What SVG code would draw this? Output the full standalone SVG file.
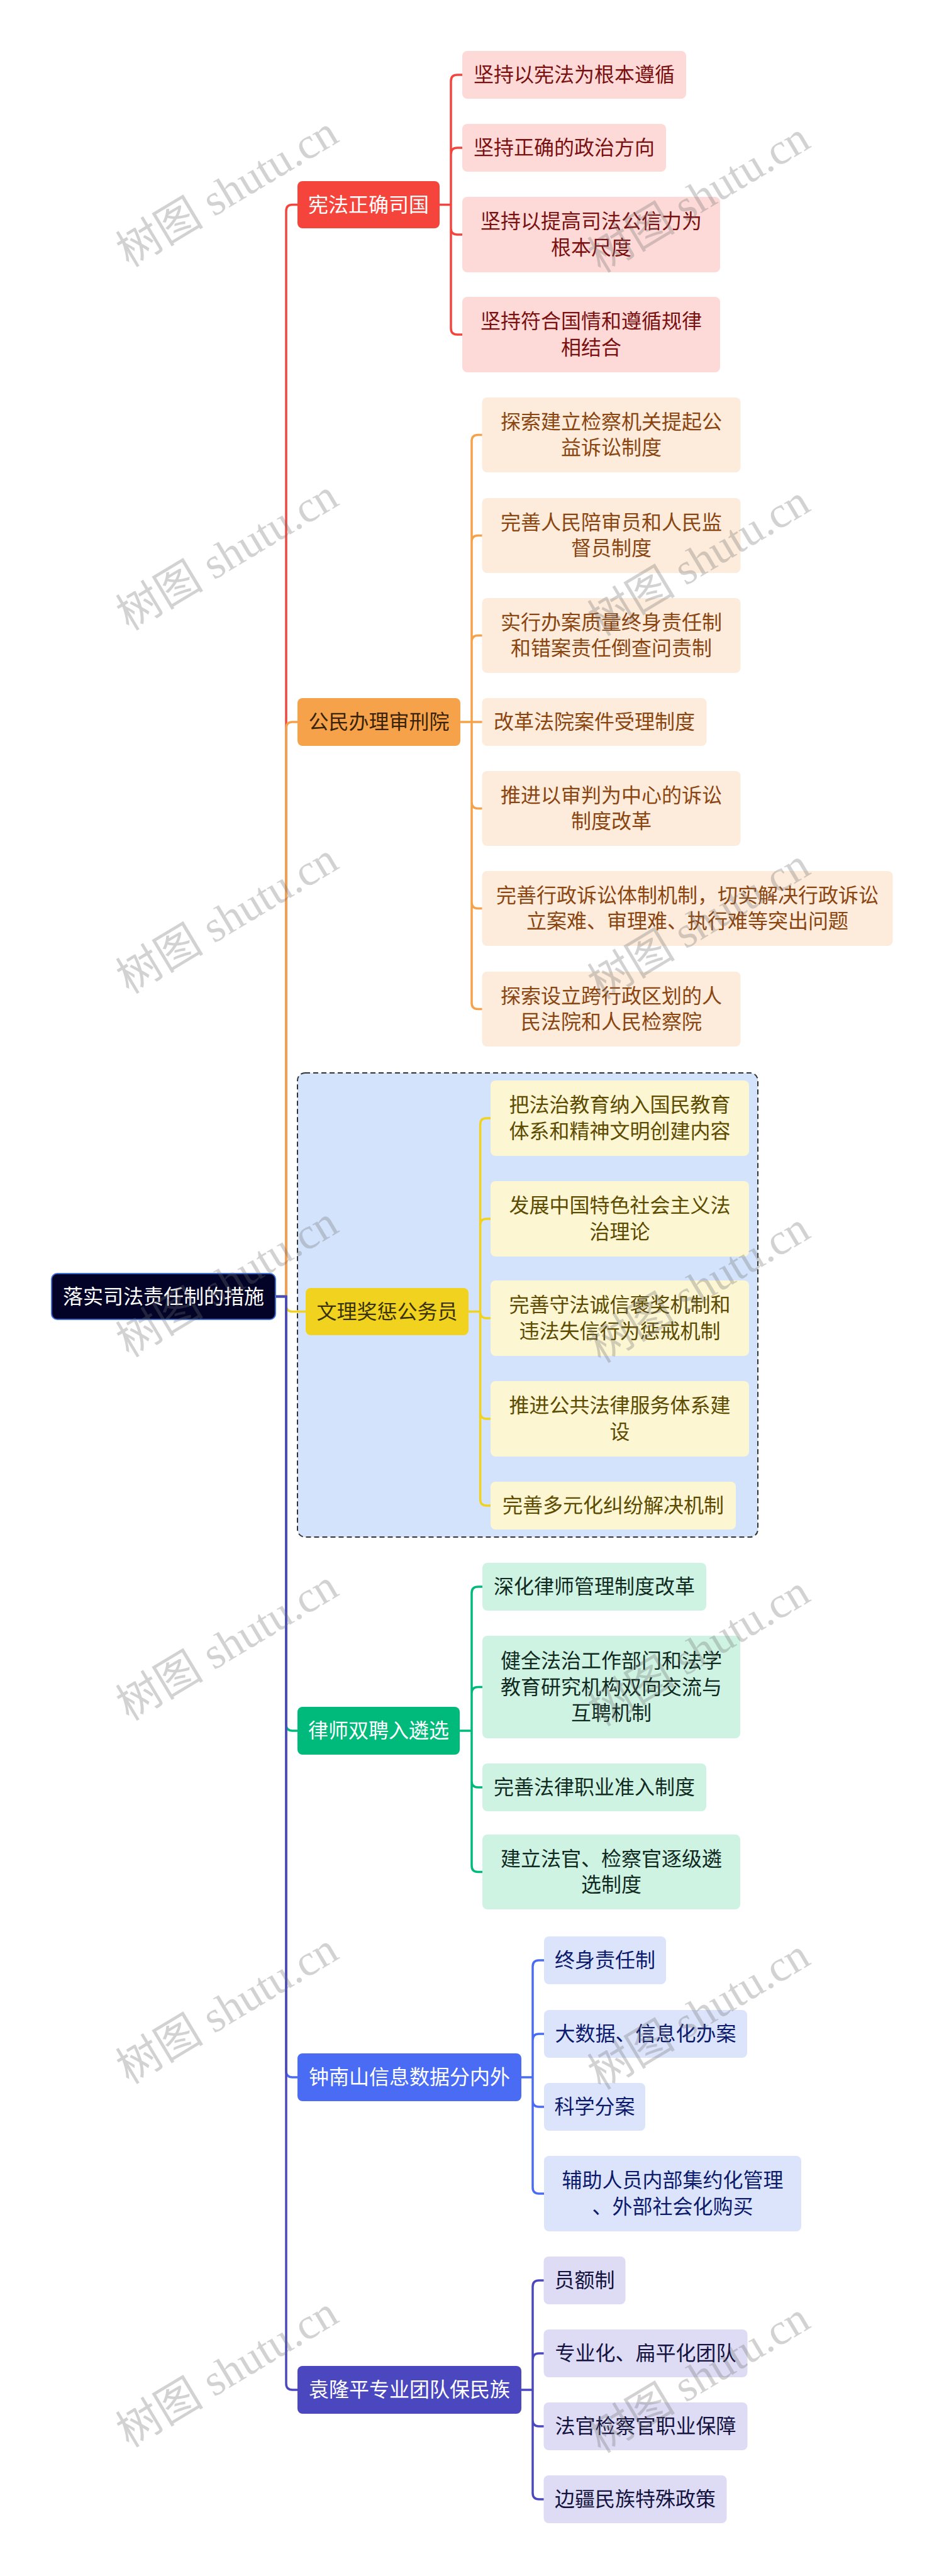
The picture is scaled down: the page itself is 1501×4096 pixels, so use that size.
<svg xmlns="http://www.w3.org/2000/svg" width="1501" height="4096" viewBox="0 0 1501 4096">
<style>
.t{font-family:"Noto Sans CJK SC","Noto Sans",sans-serif;font-size:32px;text-anchor:middle}
.w{fill:#ffffff}
.c{fill:none;stroke-width:3.5;stroke-linecap:round}
.wm{font-family:"Liberation Serif","Noto Sans CJK SC",serif;font-size:70px;fill:#6e6e6e;opacity:0.3}
.red{stroke:#f5443c}.ora{stroke:#f5a24b}.yel{stroke:#f0d21f}.grn{stroke:#00ba7b}.blu{stroke:#4a6cf4}.ind{stroke:#4a47bf}
</style>
<rect width="1501" height="4096" fill="#ffffff"/>
<g id="frame-b3"><rect x="473" y="1706" width="732" height="738" rx="12" fill="#d4e3fc" stroke="#333" stroke-width="2" stroke-dasharray="8 5"/></g>
<g id="connectors">
<path class="c red" d="M438 2061.5H455V335.5Q455 325.5 465 325.5H473"/>
<path class="c ora" d="M438 2061.5H455V1158Q455 1148 465 1148H473"/>
<path class="c yel" d="M438 2061.5H455V2075.5Q455 2085.5 465 2085.5H486"/>
<path class="c grn" d="M438 2061.5H455V2742Q455 2752 465 2752H473"/>
<path class="c blu" d="M438 2061.5H455V3293Q455 3303 465 3303H473"/>
<path class="c ind" d="M438 2061.5H455V3790Q455 3800 465 3800H473"/>
<path class="c red" d="M699 325.5H717V129Q717 119 727 119H735M717 325.5V245Q717 235 727 235H735M717 325.5V363Q717 373 727 373H735M717 325.5V522Q717 532 727 532H735"/>
<path class="c ora" d="M732 1148H750V701.5Q750 691.5 760 691.5H766.5M750 1148V861.5Q750 851.5 760 851.5H766.5M750 1148V1020.5Q750 1010.5 760 1010.5H766.5M750 1148H766.5M750 1148V1275.5Q750 1285.5 760 1285.5H766.5M750 1148V1434.5Q750 1444.5 760 1444.5H766.5M750 1148V1594.5Q750 1604.5 760 1604.5H766.5"/>
<path class="c yel" d="M745 2085.5H763.6V1788Q763.6 1778 773.6 1778H780M763.6 2085.5V1948Q763.6 1938 773.6 1938H780M763.6 2086Q763.6 2096 773.6 2096H780M763.6 2085.5V2246Q763.6 2256 773.6 2256H780M763.6 2085.5V2384Q763.6 2394 773.6 2394H780"/>
<path class="c grn" d="M731 2752H750V2533Q750 2523 760 2523H767M750 2752V2692.5Q750 2682.5 760 2682.5H767M750 2752V2832Q750 2842 760 2842H767M750 2752V2966.5Q750 2976.5 760 2976.5H767"/>
<path class="c blu" d="M829 3303H847V3127Q847 3117 857 3117H865M847 3303V3244Q847 3234 857 3234H865M847 3303V3340Q847 3350 857 3350H865M847 3303V3478Q847 3488 857 3488H865"/>
<path class="c ind" d="M829 3800H847V3636Q847 3626 857 3626H864.5M847 3800V3752Q847 3742 857 3742H864.5M847 3800V3848Q847 3858 857 3858H864.5M847 3800V3964Q847 3974 857 3974H864.5"/>
</g>
<g id="root"><rect x="82" y="2025" width="356" height="73" rx="9" fill="#020327" stroke="#3d6fd8" stroke-width="2"/><text class="t w" x="260" y="2072.5">落实司法责任制的措施</text></g>
<g id="b1"><rect x="473" y="288" width="226" height="75" rx="8" fill="#f5443c"/><text class="t w" x="586" y="336.5">宪法正确司国</text></g>
<g id="b1-1"><rect x="735" y="81" width="356" height="76" rx="8" fill="#fddad8"/><text class="t" fill="#7a1010" x="913" y="130">坚持以宪法为根本遵循</text></g>
<g id="b1-2"><rect x="735" y="197" width="324" height="76" rx="8" fill="#fddad8"/><text class="t" fill="#7a1010" x="897" y="246">坚持正确的政治方向</text></g>
<g id="b1-3"><rect x="735" y="313" width="410" height="120" rx="8" fill="#fddad8"/><text class="t" fill="#7a1010" x="940" y="363.2">坚持以提高司法公信力为</text><text class="t" fill="#7a1010" x="940" y="404.8">根本尺度</text></g>
<g id="b1-4"><rect x="735" y="472" width="410" height="120" rx="8" fill="#fddad8"/><text class="t" fill="#7a1010" x="940" y="522.2">坚持符合国情和遵循规律</text><text class="t" fill="#7a1010" x="940" y="563.8">相结合</text></g>
<g id="b2"><rect x="473" y="1110" width="259" height="76" rx="8" fill="#f5a24b"/><text class="t" fill="#3a2208" x="602.5" y="1159">公民办理审刑院</text></g>
<g id="b2-1"><rect x="766.5" y="632" width="411" height="119" rx="8" fill="#fdebdb"/><text class="t" fill="#8a4510" x="972" y="681.7">探索建立检察机关提起公</text><text class="t" fill="#8a4510" x="972" y="723.3">益诉讼制度</text></g>
<g id="b2-2"><rect x="766.5" y="792" width="411" height="119" rx="8" fill="#fdebdb"/><text class="t" fill="#8a4510" x="972" y="841.7">完善人民陪审员和人民监</text><text class="t" fill="#8a4510" x="972" y="883.3">督员制度</text></g>
<g id="b2-3"><rect x="766.5" y="951" width="411" height="119" rx="8" fill="#fdebdb"/><text class="t" fill="#8a4510" x="972" y="1000.7">实行办案质量终身责任制</text><text class="t" fill="#8a4510" x="972" y="1042.3">和错案责任倒查问责制</text></g>
<g id="b2-4"><rect x="766.5" y="1110" width="357" height="76" rx="8" fill="#fdebdb"/><text class="t" fill="#8a4510" x="945" y="1159">改革法院案件受理制度</text></g>
<g id="b2-5"><rect x="766.5" y="1226" width="411" height="119" rx="8" fill="#fdebdb"/><text class="t" fill="#8a4510" x="972" y="1275.7">推进以审判为中心的诉讼</text><text class="t" fill="#8a4510" x="972" y="1317.3">制度改革</text></g>
<g id="b2-6"><rect x="766.5" y="1385" width="653" height="119" rx="8" fill="#fdebdb"/><text class="t" fill="#8a4510" x="1093" y="1434.7">完善行政诉讼体制机制，切实解决行政诉讼</text><text class="t" fill="#8a4510" x="1093" y="1476.3">立案难、审理难、执行难等突出问题</text></g>
<g id="b2-7"><rect x="766.5" y="1545" width="411" height="119" rx="8" fill="#fdebdb"/><text class="t" fill="#8a4510" x="972" y="1594.7">探索设立跨行政区划的人</text><text class="t" fill="#8a4510" x="972" y="1636.3">民法院和人民检察院</text></g>
<g id="b3"><rect x="486" y="2048" width="259" height="75" rx="8" fill="#f0d21f"/><text class="t" fill="#3a3205" x="615.5" y="2096.5">文理奖惩公务员</text></g>
<g id="b3-1"><rect x="780" y="1718" width="411" height="120" rx="8" fill="#fcf6d3"/><text class="t" fill="#5c4b00" x="985.5" y="1768.2">把法治教育纳入国民教育</text><text class="t" fill="#5c4b00" x="985.5" y="1809.8">体系和精神文明创建内容</text></g>
<g id="b3-2"><rect x="780" y="1878" width="411" height="120" rx="8" fill="#fcf6d3"/><text class="t" fill="#5c4b00" x="985.5" y="1928.2">发展中国特色社会主义法</text><text class="t" fill="#5c4b00" x="985.5" y="1969.8">治理论</text></g>
<g id="b3-3"><rect x="780" y="2036" width="411" height="120" rx="8" fill="#fcf6d3"/><text class="t" fill="#5c4b00" x="985.5" y="2086.2">完善守法诚信褒奖机制和</text><text class="t" fill="#5c4b00" x="985.5" y="2127.8">违法失信行为惩戒机制</text></g>
<g id="b3-4"><rect x="780" y="2196" width="411" height="120" rx="8" fill="#fcf6d3"/><text class="t" fill="#5c4b00" x="985.5" y="2246.2">推进公共法律服务体系建</text><text class="t" fill="#5c4b00" x="985.5" y="2287.8">设</text></g>
<g id="b3-5"><rect x="780" y="2356" width="390" height="76" rx="8" fill="#fcf6d3"/><text class="t" fill="#5c4b00" x="975" y="2405">完善多元化纠纷解决机制</text></g>
<g id="b4"><rect x="473" y="2714" width="258" height="76" rx="8" fill="#00ba7b"/><text class="t w" x="602" y="2763">律师双聘入遴选</text></g>
<g id="b4-1"><rect x="767" y="2485" width="356" height="76" rx="8" fill="#cff3e3"/><text class="t" fill="#112a1f" x="945" y="2534">深化律师管理制度改革</text></g>
<g id="b4-2"><rect x="767" y="2601" width="410" height="163" rx="8" fill="#cff3e3"/><text class="t" fill="#112a1f" x="972" y="2651.9">健全法治工作部门和法学</text><text class="t" fill="#112a1f" x="972" y="2693.5">教育研究机构双向交流与</text><text class="t" fill="#112a1f" x="972" y="2735.1">互聘机制</text></g>
<g id="b4-3"><rect x="767" y="2804" width="356" height="76" rx="8" fill="#cff3e3"/><text class="t" fill="#112a1f" x="945" y="2853">完善法律职业准入制度</text></g>
<g id="b4-4"><rect x="767" y="2917" width="410" height="119" rx="8" fill="#cff3e3"/><text class="t" fill="#112a1f" x="972" y="2966.7">建立法官、检察官逐级遴</text><text class="t" fill="#112a1f" x="972" y="3008.3">选制度</text></g>
<g id="b5"><rect x="473" y="3265" width="356" height="76" rx="8" fill="#4a6cf4"/><text class="t w" x="651" y="3314">钟南山信息数据分内外</text></g>
<g id="b5-1"><rect x="865" y="3079" width="194" height="76" rx="8" fill="#dce4fc"/><text class="t" fill="#0c1a6b" x="962" y="3128">终身责任制</text></g>
<g id="b5-2"><rect x="865" y="3196" width="323" height="76" rx="8" fill="#dce4fc"/><text class="t" fill="#0c1a6b" x="1026.5" y="3245">大数据、信息化办案</text></g>
<g id="b5-3"><rect x="865" y="3312" width="161" height="76" rx="8" fill="#dce4fc"/><text class="t" fill="#0c1a6b" x="945.5" y="3361">科学分案</text></g>
<g id="b5-4"><rect x="865" y="3428" width="409" height="120" rx="8" fill="#dce4fc"/><text class="t" fill="#0c1a6b" x="1069.5" y="3478.2">辅助人员内部集约化管理</text><text class="t" fill="#0c1a6b" x="1069.5" y="3519.8">、外部社会化购买</text></g>
<g id="b6"><rect x="473" y="3762" width="356" height="76" rx="8" fill="#4a47bf"/><text class="t w" x="651" y="3811">袁隆平专业团队保民族</text></g>
<g id="b6-1"><rect x="864.5" y="3588" width="130" height="76" rx="8" fill="#dddcf4"/><text class="t" fill="#14123f" x="929.5" y="3637">员额制</text></g>
<g id="b6-2"><rect x="864.5" y="3704" width="324" height="76" rx="8" fill="#dddcf4"/><text class="t" fill="#14123f" x="1026.5" y="3753">专业化、扁平化团队</text></g>
<g id="b6-3"><rect x="864.5" y="3820" width="324" height="76" rx="8" fill="#dddcf4"/><text class="t" fill="#14123f" x="1026.5" y="3869">法官检察官职业保障</text></g>
<g id="b6-4"><rect x="864.5" y="3936" width="291" height="76" rx="8" fill="#dddcf4"/><text class="t" fill="#14123f" x="1010" y="3985">边疆民族特殊政策</text></g>
<g id="watermark">
<text class="wm" transform="translate(205 426) rotate(-31)">树图 shutu.cn</text>
<text class="wm" transform="translate(955 435) rotate(-31)">树图 shutu.cn</text>
<text class="wm" transform="translate(205 1003.8) rotate(-31)">树图 shutu.cn</text>
<text class="wm" transform="translate(955 1012.8) rotate(-31)">树图 shutu.cn</text>
<text class="wm" transform="translate(205 1581.6) rotate(-31)">树图 shutu.cn</text>
<text class="wm" transform="translate(955 1590.6) rotate(-31)">树图 shutu.cn</text>
<text class="wm" transform="translate(205 2159.4) rotate(-31)">树图 shutu.cn</text>
<text class="wm" transform="translate(955 2168.4) rotate(-31)">树图 shutu.cn</text>
<text class="wm" transform="translate(205 2737.2) rotate(-31)">树图 shutu.cn</text>
<text class="wm" transform="translate(955 2746.2) rotate(-31)">树图 shutu.cn</text>
<text class="wm" transform="translate(205 3315) rotate(-31)">树图 shutu.cn</text>
<text class="wm" transform="translate(955 3324) rotate(-31)">树图 shutu.cn</text>
<text class="wm" transform="translate(205 3892.8) rotate(-31)">树图 shutu.cn</text>
<text class="wm" transform="translate(955 3901.8) rotate(-31)">树图 shutu.cn</text>
</g>
</svg>
